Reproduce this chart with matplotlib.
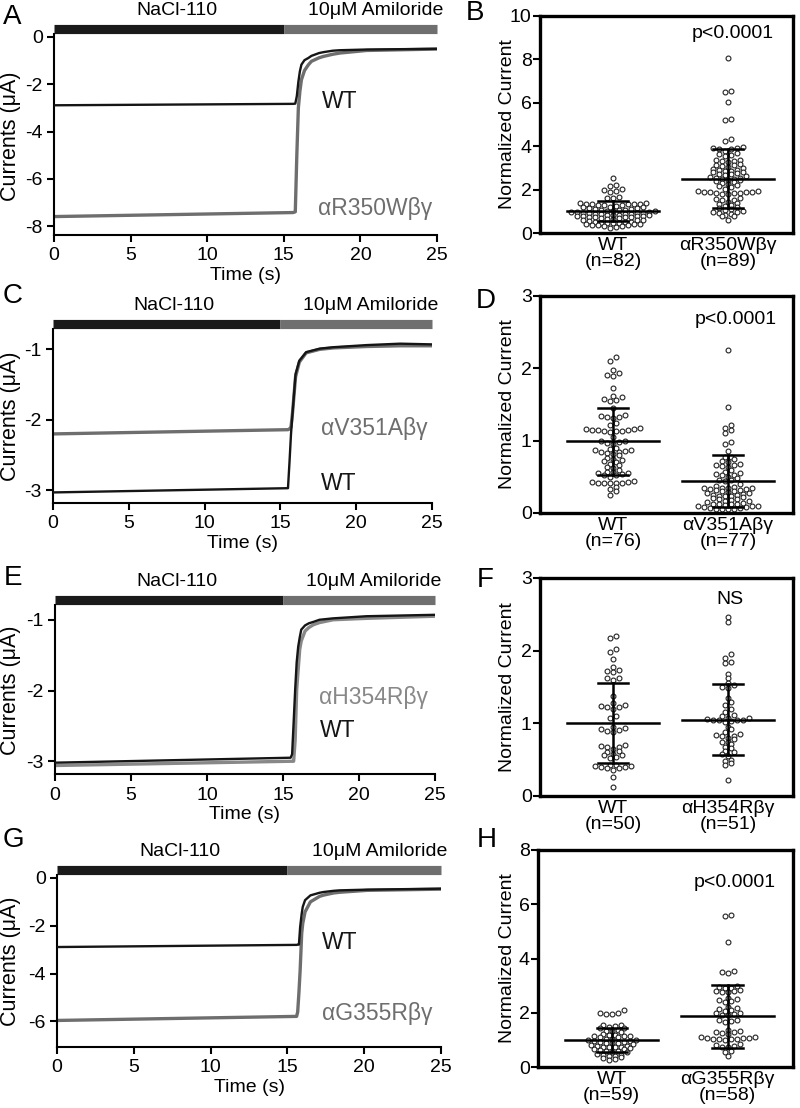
import numpy as np
import matplotlib
matplotlib.use('Agg')
import matplotlib.pyplot as plt

# ---- trace data (time in s, current in uA) ----
t_A = [0, 15.6, 15.75, 15.85, 15.95, 16.05, 16.15, 16.35, 16.6, 16.8, 17.3, 17.6, 18.2, 18.65, 20.4, 25]
wt_A = [-2.89, -2.83, -2.82, -2.5, -1.9, -1.45, -1.17, -0.98, -0.89, -0.8, -0.68, -0.64, -0.58, -0.56, -0.53, -0.5]
mut_A = [-7.6, -7.43, -7.4, -5.0, -3.0, -2.3, -1.81, -1.42, -1.18, -1.03, -0.88, -0.82, -0.73, -0.68, -0.57, -0.51]

t_C = [0, 15.5, 15.6, 15.7, 15.8, 16.0, 16.25, 16.7, 17.6, 18.5, 20.7, 22.9, 25]
wt_C = [-3.03, -2.97, -2.6, -2.2, -1.91, -1.35, -1.16, -1.04, -0.99, -0.97, -0.94, -0.92, -0.93]
mut_C = [-2.2, -2.14, -2.13, -2.1, -1.9, -1.39, -1.18, -1.05, -1.0, -0.98, -0.96, -0.95, -0.95]

t_E = [0, 15.5, 15.6, 15.7, 15.8, 15.9, 16.0, 16.1, 16.2, 16.45, 16.7, 17.0, 17.4, 18.3, 20.5, 25]
wt_E = [-3.02, -2.95, -2.9, -2.45, -1.99, -1.6, -1.38, -1.25, -1.14, -1.08, -1.05, -1.03, -1.0, -0.98, -0.95, -0.93]
mut_E = [-3.06, -3.0, -3.0, -3.0, -2.7, -1.99, -1.7, -1.42, -1.3, -1.16, -1.11, -1.07, -1.04, -1.0, -0.98, -0.95]

t_G = [0, 15.6, 15.67, 15.75, 15.83, 15.93, 16.0, 16.15, 16.5, 17.1, 17.35, 18.0, 18.4, 20.2, 25]
wt_G = [-2.89, -2.8, -2.79, -2.79, -2.05, -1.5, -1.21, -0.93, -0.73, -0.62, -0.59, -0.54, -0.52, -0.49, -0.45]
mut_G = [-5.96, -5.79, -5.6, -4.8, -3.86, -2.33, -1.9, -1.42, -1.0, -0.77, -0.72, -0.63, -0.6, -0.52, -0.47]

trace_names = ['\u03b1R350W\u03b2\u03b3', '\u03b1V351A\u03b2\u03b3', '\u03b1H354R\u03b2\u03b3', '\u03b1G355R\u03b2\u03b3']

# ---- normalized current, individual oocytes ----
B_wt = [2.52, 2.22, 2.18, 2.02, 1.98, 1.92, 1.88, 1.65, 1.62, 1.6,
        1.38, 1.36, 1.35, 1.35, 1.34, 1.33, 1.32, 1.3, 1.3, 1.28,
        1.25, 1.22, 1.2, 1.18, 1.15, 1.14, 1.12, 1.1, 1.08, 1.06,
        1.05, 1.03, 1.02, 1.0, 0.98, 0.97, 0.95, 0.94, 0.93, 0.92,
        0.9, 0.89, 0.88, 0.87, 0.86, 0.85, 0.84, 0.83, 0.82, 0.8,
        0.79, 0.78, 0.77, 0.76, 0.75, 0.74, 0.72, 0.7, 0.68, 0.66,
        0.64, 0.62, 0.6, 0.58, 0.55, 0.52, 0.5, 0.5, 0.48, 0.46,
        0.45, 0.44, 0.42, 0.4, 0.4, 0.38, 0.36, 0.35, 0.33, 0.3, 0.28, 0.25]
B_mut = [8.05, 6.55, 6.5, 6.02, 5.25, 5.22, 4.32, 4.25,
         3.95, 3.93, 3.9, 3.88, 3.85, 3.8, 3.7, 3.65, 3.6, 3.55,
         3.38, 3.35, 3.33, 3.3, 3.28, 3.2, 3.15, 3.12, 3.1, 3.05,
         3.0, 2.95, 2.92, 2.9, 2.88, 2.85, 2.82, 2.8, 2.75, 2.72,
         2.7, 2.65, 2.62, 2.6, 2.55, 2.52, 2.5, 2.48, 2.45, 2.42,
         2.38, 2.35, 2.3, 2.25, 2.2, 2.15, 2.1, 2.05, 1.95, 1.92,
         1.9, 1.9, 1.88, 1.88, 1.86, 1.85, 1.84, 1.82, 1.8, 1.6,
         1.55, 1.52, 1.5, 1.45, 1.4, 1.35, 1.3, 1.25, 1.2, 1.15,
         1.1, 1.05, 1.0, 0.98, 0.95, 0.9, 0.88, 0.85, 0.8, 0.78, 0.62]
D_wt = [2.15, 2.1, 1.98, 1.93, 1.91, 1.89, 1.73, 1.62, 1.6, 1.57,
        1.56, 1.55, 1.45, 1.35, 1.34, 1.33, 1.33, 1.32, 1.25, 1.22,
        1.17, 1.16, 1.16, 1.15, 1.15, 1.15, 1.14, 1.14, 1.13, 1.12,
        1.05, 1.0, 0.99, 0.98, 0.97, 0.96, 0.9, 0.88, 0.87, 0.87,
        0.86, 0.85, 0.84, 0.83, 0.82, 0.8, 0.76, 0.75, 0.73, 0.72,
        0.7, 0.68, 0.66, 0.64, 0.62, 0.6, 0.57, 0.56, 0.55, 0.55,
        0.54, 0.53, 0.52, 0.5, 0.44, 0.43, 0.43, 0.42, 0.42, 0.42,
        0.41, 0.41, 0.36, 0.33, 0.3, 0.25]
D_mut = [2.25, 1.47, 1.22, 1.17, 1.15, 1.1, 0.98, 0.96, 0.86, 0.78,
         0.77, 0.75, 0.72, 0.7, 0.68, 0.67, 0.66, 0.65, 0.63, 0.6,
         0.56, 0.55, 0.54, 0.53, 0.52, 0.5, 0.48, 0.46, 0.45, 0.44,
         0.4, 0.38, 0.36, 0.35, 0.35, 0.34, 0.34, 0.33, 0.33, 0.32,
         0.32, 0.31, 0.3, 0.29, 0.28, 0.27, 0.26, 0.25, 0.25, 0.24,
         0.24, 0.23, 0.22, 0.21, 0.2, 0.19, 0.18, 0.17, 0.16, 0.15,
         0.14, 0.13, 0.13, 0.12, 0.12, 0.11, 0.1, 0.1, 0.09, 0.08,
         0.08, 0.07, 0.07, 0.06, 0.06, 0.05, 0.05]
F_wt = [2.2, 2.17, 2.02, 1.98, 1.89, 1.78, 1.74, 1.72, 1.7, 1.63,
        1.62, 1.6, 1.38, 1.28, 1.25, 1.24, 1.23, 1.22, 1.2, 1.1,
        1.08, 0.95, 0.93, 0.92, 0.91, 0.9, 0.88, 0.7, 0.69, 0.68,
        0.68, 0.65, 0.62, 0.6, 0.58, 0.57, 0.56, 0.53, 0.52, 0.42,
        0.42, 0.41, 0.41, 0.4, 0.4, 0.38, 0.38, 0.36, 0.26, 0.12]
F_mut = [2.47, 2.4, 1.95, 1.9, 1.85, 1.83, 1.68, 1.62, 1.55, 1.53,
         1.5, 1.48, 1.35, 1.3, 1.25, 1.2, 1.15, 1.12, 1.1, 1.08,
         1.07, 1.06, 1.05, 1.05, 1.05, 1.04, 1.03, 1.02, 0.95, 0.92,
         0.88, 0.85, 0.84, 0.83, 0.82, 0.8, 0.78, 0.75, 0.74, 0.72,
         0.68, 0.66, 0.62, 0.6, 0.58, 0.55, 0.5, 0.48, 0.46, 0.42, 0.22]
H_wt = [2.1, 2.0, 1.98, 1.97, 1.96, 1.55, 1.54, 1.52, 1.48, 1.45,
        1.42, 1.35, 1.33, 1.32, 1.3, 1.2, 1.18, 1.17, 1.16, 1.15,
        1.14, 1.12, 1.1, 1.05, 1.02, 1.0, 0.98, 0.96, 0.95, 0.93,
        0.92, 0.9, 0.88, 0.87, 0.85, 0.82, 0.78, 0.76, 0.75, 0.74,
        0.73, 0.72, 0.7, 0.68, 0.65, 0.62, 0.6, 0.58, 0.56, 0.55,
        0.48, 0.45, 0.43, 0.42, 0.41, 0.38, 0.35, 0.3, 0.25]
H_mut = [5.6, 5.58, 4.6, 3.55, 3.5, 3.48, 3.0, 2.95, 2.93, 2.9,
         2.85, 2.82, 2.8, 2.78, 2.75, 2.55, 2.5, 2.48, 2.45, 2.4,
         2.2, 2.18, 2.15, 2.1, 2.05, 2.0, 1.98, 1.95, 1.92, 1.9,
         1.75, 1.72, 1.7, 1.65, 1.35, 1.33, 1.3, 1.28, 1.25, 1.2,
         1.1, 1.1, 1.08, 1.07, 1.06, 1.05, 1.05, 1.04, 1.02, 1.0,
         0.85, 0.8, 0.78, 0.75, 0.72, 0.6, 0.55, 0.4]

# mean and SD as drawn on the plots (WT, mutant)
means = [[1.0, 2.5], [0.99, 0.44], [1.0, 1.05], [1.0, 1.87]]
sds = [[0.46, 1.37], [0.465, 0.36], [0.55, 0.485], [0.44, 1.16]]
p_texts = ['p<0.0001', 'p<0.0001', 'NS', 'p<0.0001']
n_wt = [82, 76, 50, 59]
n_mut = [89, 77, 51, 58]

plt.rcParams['font.family'] = ['Liberation Sans', 'DejaVu Sans']
plt.rcParams['axes.linewidth'] = 1.5
plt.rcParams['axes.unicode_minus'] = False
FS = 14

W, H = 800, 1108
fig = plt.figure(figsize=(W / 100, H / 100), dpi=100)


def px_axes(x0, y0, x1, y1):
    return fig.add_axes([x0 / W, 1 - y1 / H, (x1 - x0) / W, (y1 - y0) / H])


BLACK = '#151515'
GRAY = '#6e6e6e'

# ---- left column: current traces ----
left_boxes = [(54, 24, 437, 235), (53, 319, 432, 503), (55, 595, 435, 774), (57, 865, 441, 1047)]
left_ylims = [(-8.38, 0.55), (-3.18, -0.57), (-3.18, -0.65), (-7.07, 0.54)]
left_yticks = [[0, -2, -4, -6, -8], [-1, -2, -3], [-1, -2, -3], [0, -2, -4, -6]]
traces = [(t_A, wt_A, mut_A), (t_C, wt_C, mut_C), (t_E, wt_E, mut_E), (t_G, wt_G, mut_G)]
mut_colors = [GRAY, GRAY, '#888888', GRAY]
# label (x in s, y in uA) for WT and mutant
wt_lab = [(17.5, -2.75), (17.7, -2.9), (17.4, -2.56), (17.25, -2.72)]
mut_lab = [(17.2, -7.25), (17.7, -2.12), (17.4, -2.10), (17.25, -5.65)]

for i in range(4):
    x0, y0, x1, y1 = left_boxes[i]
    ax = px_axes(x0, y0, x1, y1)
    hpx = y1 - y0
    lo, hi = left_ylims[i]
    per_px = (hi - lo) / hpx
    t, wt, mut = traces[i]
    ax.plot(t, mut, color=mut_colors[i], lw=2.4, zorder=2)
    ax.plot(t, wt, color=BLACK, lw=1.7, zorder=3)
    # solution bar on top
    ybar = 1 - 4.5 / hpx
    ax.plot([0, 15], [ybar, ybar], color='#1a1a1a', lw=6.6, solid_capstyle='butt',
            transform=ax.get_xaxis_transform(), clip_on=False)
    ax.plot([15, 25], [ybar, ybar], color='#6f6f6f', lw=6.6, solid_capstyle='butt',
            transform=ax.get_xaxis_transform(), clip_on=False)
    ax.annotate('NaCl-110', xy=(8.0, 1), xycoords=ax.get_xaxis_transform(),
                xytext=(0, 3.5), textcoords='offset points', ha='center', va='bottom',
                fontsize=FS)
    ax.annotate('10\u03bcM Amiloride', xy=(25.4, 1), xycoords=ax.get_xaxis_transform(),
                xytext=(0, 3.5), textcoords='offset points', ha='right', va='bottom',
                fontsize=FS)
    ax.text(wt_lab[i][0], wt_lab[i][1], 'WT', color=BLACK, fontsize=16.5,
            ha='left', va='center')
    ax.text(mut_lab[i][0], mut_lab[i][1], trace_names[i], color=mut_colors[i],
            fontsize=16.5, ha='left', va='center')

    ax.set_xlim(0, 25)
    ax.set_ylim(lo, hi)
    ax.spines['top'].set_visible(False)
    ax.spines['right'].set_visible(False)
    ax.spines['left'].set_bounds(lo, hi - 10 * per_px)
    ax.set_xticks([0, 5, 10, 15, 20, 25])
    ax.set_yticks(left_yticks[i])
    ax.tick_params(direction='out', length=5, width=1.5, pad=3, labelsize=FS)
    ax.tick_params(axis='x', pad=4)
    ax.set_xlabel('Time (s)', fontsize=FS, labelpad=1.5)
    ax.set_ylabel('Currents (\u03bcA)', fontsize=15.5)
    ax.yaxis.set_label_coords((21 - x0) / (x1 - x0), 0.47)


# ---- right column: scatter of normalized currents ----
def row_layout(ypix, row_h, step):
    # Prism-like column scatter: values close together share a row
    order = np.argsort(ypix)
    xs = np.zeros(len(ypix))
    rows = []
    for k in order:
        if rows and ypix[k] - ypix[rows[-1][0]] < row_h:
            rows[-1].append(k)
        else:
            rows.append([k])
    for r in rows:
        n = len(r)
        offs = (np.arange(n) - (n - 1) / 2.0) * step
        idx = sorted(range(n), key=lambda j: abs(offs[j]))
        for j, k in zip(idx, r):
            xs[k] = offs[j]
    return xs


right_boxes = [(540, 16, 793, 233), (540, 296, 793, 513), (540, 578, 793, 796), (538, 850, 793, 1067)]
right_ymax = [10, 3, 3, 8]
right_yticks = [[0, 2, 4, 6, 8, 10], [0, 1, 2, 3], [0, 1, 2, 3], [0, 2, 4, 6, 8]]
groups = [(B_wt, B_mut), (D_wt, D_mut), (F_wt, F_mut), (H_wt, H_mut)]
p_pos = [(0.763, 0.92), (0.772, 0.89), (0.75, 0.9), (0.772, 0.85)]

for i in range(4):
    x0, y0, x1, y1 = right_boxes[i]
    ax = px_axes(x0, y0, x1, y1)
    xlo, xhi = -0.635, 1.565
    ax.set_xlim(xlo, xhi)
    ax.set_ylim(0, right_ymax[i])
    xppu = (x1 - x0) / (xhi - xlo)
    for g, vals in enumerate(groups[i]):
        vals = np.asarray(vals)
        ypix = ax.transData.transform(np.column_stack([np.full(len(vals), g), vals]))[:, 1]
        xs = g + row_layout(ypix, 4.0, 6.0) / xppu
        ax.plot(xs, vals, 'o', ms=3.5, mfc='white', mec='#222222', mew=0.8,
                zorder=2, clip_on=False)
        m, s = means[i][g], sds[i][g]
        ax.plot([g - 0.4, g + 0.4], [m, m], color='black', lw=1.8, zorder=3)
        ax.plot([g, g], [m - s, m + s], color='black', lw=1.8, zorder=3)
        ax.plot([g - 0.13, g + 0.13], [m + s, m + s], color='black', lw=1.8, zorder=3)
        ax.plot([g - 0.13, g + 0.13], [m - s, m - s], color='black', lw=1.8, zorder=3)
    for sp in ax.spines.values():
        sp.set_linewidth(2.4)
    ax.set_yticks(right_yticks[i])
    ax.set_xticks([0, 1])
    ax.set_xticklabels(['WT\n(n=%d)' % n_wt[i], trace_names[i] + '\n(n=%d)' % n_mut[i]],
                       fontsize=FS, linespacing=0.9)
    ax.tick_params(axis='x', length=0, pad=3)
    ax.tick_params(axis='y', direction='out', length=5, width=1.5, pad=1, labelsize=FS)
    ax.text(p_pos[i][0], p_pos[i][1], p_texts[i], transform=ax.transAxes,
            ha='center', va='center', fontsize=FS)
    ax.set_ylabel('Normalized Current', fontsize=14)
    ax.yaxis.set_label_coords((516 - x0) / (x1 - x0), 0.5)

# ---- panel letters ----
letters = ['A', 'B', 'C', 'D', 'E', 'F', 'G', 'H']
letter_xy = [(3, 24), (466, 20), (3, 303), (476, 308), (4, 585), (477, 587), (3, 847), (477, 847)]
for L, (lx, ly) in zip(letters, letter_xy):
    fig.text(lx / W, 1 - ly / H, L, fontsize=20, ha='left', va='baseline')

fig.savefig('out.png', dpi=100)
